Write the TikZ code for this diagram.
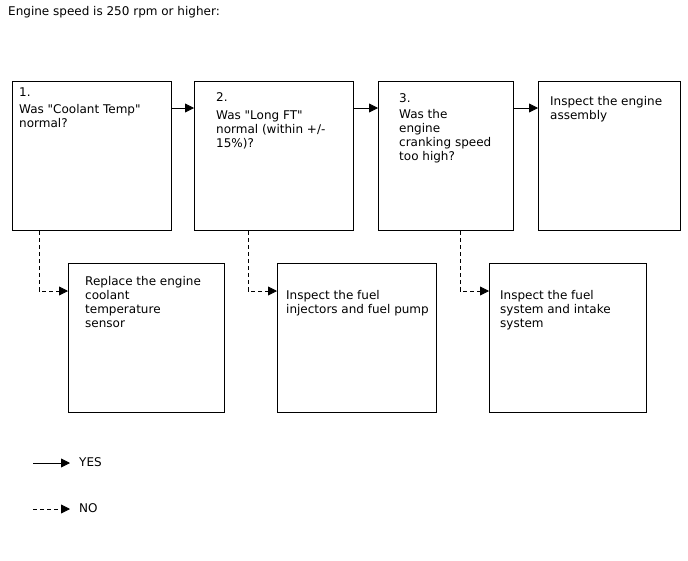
\documentclass[tikz,border=0pt]{standalone}
\usepackage{fontspec}
\setmainfont{DejaVu Sans}[Ligatures=TeXOff]
\usetikzlibrary{arrows.meta,positioning}
\tikzset{
  box/.style={draw,line width=1.2pt,anchor=north west,minimum width=#1,minimum height=149pt,inner sep=0pt},
  txt/.style={inner sep=0pt,anchor=north west,align=left,font=\fontsize{12}{14}\selectfont},
  yes/.style={->,line width=.8pt},
  no/.style={->,line width=.8pt,dash pattern=on 4pt off 3pt}
}
\begin{document}
\begin{tikzpicture}[x=1pt,y=-1pt,>={Triangle[length=9pt,width=9pt]}]
\useasboundingbox (0,0) rectangle (688,560);
\node[txt,anchor=west](title) at (8,12){Engine speed is 250 rpm or higher:};
% checks
\node[box=159pt](q1) at (12,81){};
\node[box=159pt](q2) at (194,81){};
\node[box=135pt](q3) at (378,81){};
\node[box=142pt](q4) at (538,81){};
% repairs
\node[box=156pt](r1) at (68,263){};
\node[box=159pt](r2) at (277,263){};
\node[box=157pt](r3) at (489,263){};
\node[txt,below right=6.5pt and 7pt of q1.north west](q1t){1.\\[3pt]Was "Coolant Temp"\\normal?};
\node[txt,below right=11pt and 22pt of q2.north west](q2t){2.\\[4pt]Was "Long FT"\\normal (within +/-\\15\%)?};
\node[txt,below right=12pt and 21pt of q3.north west](q3t){3.\\[2pt]Was the\\engine\\cranking speed\\too high?};
\node[txt,below right=15pt and 12pt of q4.north west](q4t){Inspect the engine\\assembly};
\node[txt,below right=13.5pt and 17pt of r1.north west](r1t){Replace the engine\\coolant\\temperature\\sensor};
\node[txt,below right=27.5pt and 9pt of r2.north west](r2t){Inspect the fuel\\injectors and fuel pump};
\node[txt,below right=27.5pt and 11pt of r3.north west](r3t){Inspect the fuel\\system and intake\\system};
\draw[yes]([yshift=-27pt]q1.north east)--([yshift=-27pt]q2.north west);
\draw[yes]([yshift=-27pt]q2.north east)--([yshift=-27pt]q3.north west);
\draw[yes]([yshift=-27pt]q3.north east)--([yshift=-27pt]q4.north west);
\draw[no]([xshift=27pt]q1.south west)|-([yshift=-28pt]r1.north west);
\draw[no]([xshift=54pt]q2.south west)|-([yshift=-28pt]r2.north west);
\draw[no]([xshift=82pt]q3.south west)|-([yshift=-28pt]r3.north west);
% legend
\coordinate(ys) at (33,463);
\coordinate(ns) at (33,509);
\node[txt,anchor=west](yesl) at (79,462){YES};
\node[txt,anchor=west](nol) at (79,508){NO};
\draw[yes](ys)--([xshift=-9pt]yesl.west|-ys);
\draw[no](ns)--([xshift=-9pt]nol.west|-ns);
\end{tikzpicture}
\end{document}
